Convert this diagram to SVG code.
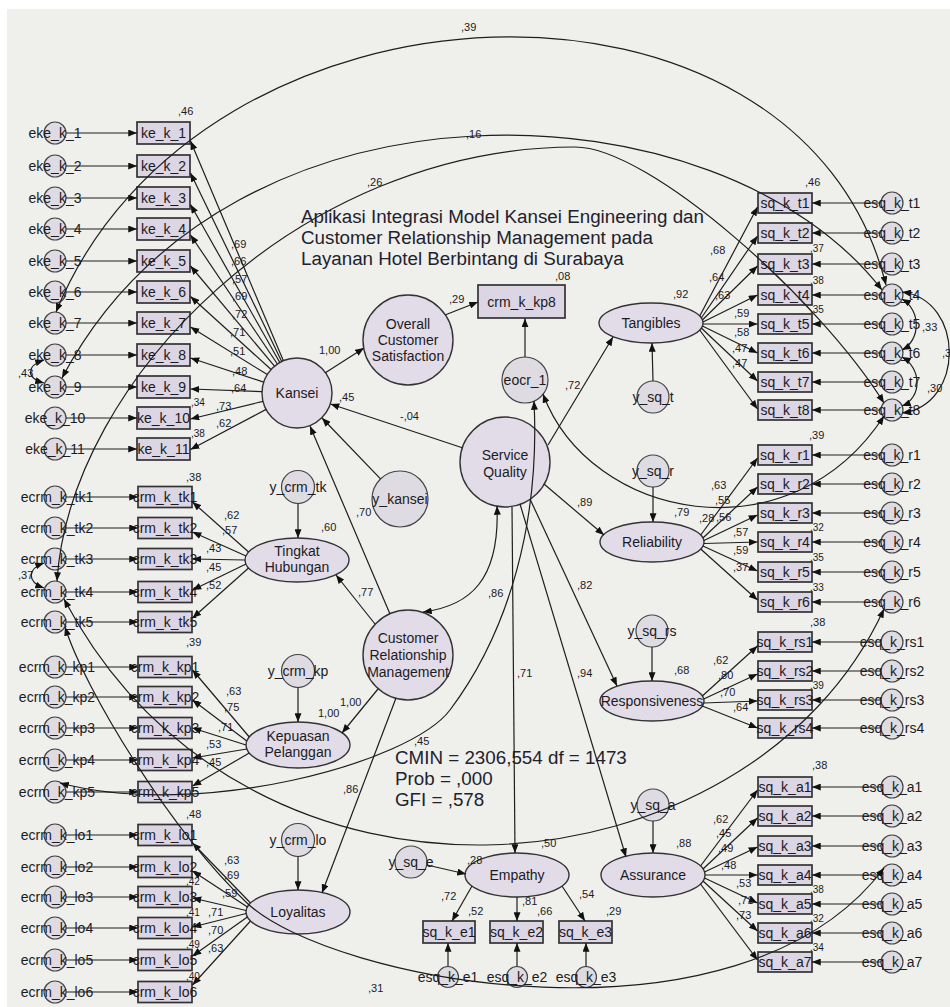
<svg xmlns="http://www.w3.org/2000/svg" width="950" height="1007" viewBox="0 0 950 1007">
<defs>
<marker id="a" viewBox="0 0 10 8" refX="10" refY="4" markerWidth="9" markerHeight="7" markerUnits="userSpaceOnUse" orient="auto-start-reverse"><path d="M0,0L10,4L0,8z" fill="#111"/></marker>
<style>
.l{fill:#e2dce8;stroke:#333;stroke-width:1.4}
.e{fill:#dedbe2;stroke:#444;stroke-width:1.2}
.b{fill:#dcd5e4;stroke:#333;stroke-width:1.7}
.lb{font-family:"Liberation Sans",Arial,sans-serif;font-size:14px;text-anchor:middle;fill:#1b1b24}
.nm{font-family:"Liberation Sans",Arial,sans-serif;font-size:11px;fill:#1b1b24}
.sm{font-size:10px}
.big{font-family:"Liberation Sans",Arial,sans-serif;font-size:18.8px;fill:#22222e}
.p{fill:none;stroke:#1e1e1e;stroke-width:1.2;marker-end:url(#a)}
.d{fill:none;stroke:#1e1e1e;stroke-width:1.2;marker-start:url(#a);marker-end:url(#a)}
</style>
</defs>
<rect x="0" y="0" width="950" height="1007" fill="#ffffff"/>
<rect x="7" y="9" width="943" height="998" fill="#efefec"/>

<g id="title">
<text class="big" x="301" y="223">Aplikasi Integrasi Model Kansei Engineering dan</text>
<text class="big" x="301" y="244">Customer Relationship Management pada</text>
<text class="big" x="301" y="265">Layanan Hotel Berbintang di Surabaya</text>
</g>
<g id="fit">
<text class="big" x="395" y="764">CMIN = 2306,554 df = 1473</text>
<text class="big" x="395" y="785">Prob = ,000</text>
<text class="big" x="395" y="806">GFI = ,578</text>
</g>

<g id="nodes">
<g id="eke_k_1"><circle class="e" cx="55" cy="133" r="11"/><text class="lb" x="55" y="138">eke_k_1</text></g>
<g id="eke_k_2"><circle class="e" cx="55" cy="166" r="11"/><text class="lb" x="55" y="171">eke_k_2</text></g>
<g id="eke_k_3"><circle class="e" cx="55" cy="198" r="11"/><text class="lb" x="55" y="203">eke_k_3</text></g>
<g id="eke_k_4"><circle class="e" cx="55" cy="229" r="11"/><text class="lb" x="55" y="234">eke_k_4</text></g>
<g id="eke_k_5"><circle class="e" cx="55" cy="261" r="11"/><text class="lb" x="55" y="266">eke_k_5</text></g>
<g id="eke_k_6"><circle class="e" cx="55" cy="292" r="11"/><text class="lb" x="55" y="297">eke_k_6</text></g>
<g id="eke_k_7"><circle class="e" cx="55" cy="323" r="11"/><text class="lb" x="55" y="328">eke_k_7</text></g>
<g id="eke_k_8"><circle class="e" cx="55" cy="355" r="11"/><text class="lb" x="55" y="360">eke_k_8</text></g>
<g id="eke_k_9"><circle class="e" cx="55" cy="387" r="11"/><text class="lb" x="55" y="392">eke_k_9</text></g>
<g id="eke_k_10"><circle class="e" cx="55" cy="418" r="11"/><text class="lb" x="55" y="423">eke_k_10</text></g>
<g id="eke_k_11"><circle class="e" cx="55" cy="449" r="11"/><text class="lb" x="55" y="454">eke_k_11</text></g>

<g id="ke_k_1"><rect class="b" x="137" y="122" width="53" height="22"/><text class="lb" x="163.5" y="138">ke_k_1</text></g>
<g id="ke_k_2"><rect class="b" x="137" y="155" width="53" height="22"/><text class="lb" x="163.5" y="171">ke_k_2</text></g>
<g id="ke_k_3"><rect class="b" x="137" y="187" width="53" height="22"/><text class="lb" x="163.5" y="203">ke_k_3</text></g>
<g id="ke_k_4"><rect class="b" x="137" y="218" width="53" height="22"/><text class="lb" x="163.5" y="234">ke_k_4</text></g>
<g id="ke_k_5"><rect class="b" x="137" y="250" width="53" height="22"/><text class="lb" x="163.5" y="266">ke_k_5</text></g>
<g id="ke_k_6"><rect class="b" x="137" y="281" width="53" height="22"/><text class="lb" x="163.5" y="297">ke_k_6</text></g>
<g id="ke_k_7"><rect class="b" x="137" y="312" width="53" height="22"/><text class="lb" x="163.5" y="328">ke_k_7</text></g>
<g id="ke_k_8"><rect class="b" x="137" y="344" width="53" height="22"/><text class="lb" x="163.5" y="360">ke_k_8</text></g>
<g id="ke_k_9"><rect class="b" x="137" y="376" width="53" height="22"/><text class="lb" x="163.5" y="392">ke_k_9</text></g>
<g id="ke_k_10"><rect class="b" x="137" y="407" width="53" height="22"/><text class="lb" x="163.5" y="423">ke_k_10</text></g>
<g id="ke_k_11"><rect class="b" x="137" y="438" width="53" height="22"/><text class="lb" x="163.5" y="454">ke_k_11</text></g>

<g id="ecrm_k_tk1"><circle class="e" cx="55" cy="497" r="11"/><text class="lb" x="57" y="502">ecrm_k_tk1</text></g>
<g id="ecrm_k_tk2"><circle class="e" cx="55" cy="528" r="11"/><text class="lb" x="57" y="533">ecrm_k_tk2</text></g>
<g id="ecrm_k_tk3"><circle class="e" cx="55" cy="559" r="11"/><text class="lb" x="57" y="564">ecrm_k_tk3</text></g>
<g id="ecrm_k_tk4"><circle class="e" cx="55" cy="592" r="11"/><text class="lb" x="57" y="597">ecrm_k_tk4</text></g>
<g id="ecrm_k_tk5"><circle class="e" cx="55" cy="622" r="11"/><text class="lb" x="57" y="627">ecrm_k_tk5</text></g>
<g id="ecrm_k_kp1"><circle class="e" cx="55" cy="667" r="11"/><text class="lb" x="57" y="672">ecrm_k_kp1</text></g>
<g id="ecrm_k_kp2"><circle class="e" cx="55" cy="697" r="11"/><text class="lb" x="57" y="702">ecrm_k_kp2</text></g>
<g id="ecrm_k_kp3"><circle class="e" cx="55" cy="728" r="11"/><text class="lb" x="57" y="733">ecrm_k_kp3</text></g>
<g id="ecrm_k_kp4"><circle class="e" cx="55" cy="760" r="11"/><text class="lb" x="57" y="765">ecrm_k_kp4</text></g>
<g id="ecrm_k_kp5"><circle class="e" cx="55" cy="792" r="11"/><text class="lb" x="57" y="797">ecrm_k_kp5</text></g>
<g id="ecrm_k_lo1"><circle class="e" cx="55" cy="835" r="11"/><text class="lb" x="57" y="840">ecrm_k_lo1</text></g>
<g id="ecrm_k_lo2"><circle class="e" cx="55" cy="867" r="11"/><text class="lb" x="57" y="872">ecrm_k_lo2</text></g>
<g id="ecrm_k_lo3"><circle class="e" cx="55" cy="897" r="11"/><text class="lb" x="57" y="902">ecrm_k_lo3</text></g>
<g id="ecrm_k_lo4"><circle class="e" cx="55" cy="928" r="11"/><text class="lb" x="57" y="933">ecrm_k_lo4</text></g>
<g id="ecrm_k_lo5"><circle class="e" cx="55" cy="960" r="11"/><text class="lb" x="57" y="965">ecrm_k_lo5</text></g>
<g id="ecrm_k_lo6"><circle class="e" cx="55" cy="992" r="11"/><text class="lb" x="57" y="997">ecrm_k_lo6</text></g>

<g id="crm_k_tk1"><rect class="b" x="138" y="486.5" width="54" height="21"/><text class="lb" x="165" y="502">crm_k_tk1</text></g>
<g id="crm_k_tk2"><rect class="b" x="138" y="517.5" width="54" height="21"/><text class="lb" x="165" y="533">crm_k_tk2</text></g>
<g id="crm_k_tk3"><rect class="b" x="138" y="548.5" width="54" height="21"/><text class="lb" x="165" y="564">crm_k_tk3</text></g>
<g id="crm_k_tk4"><rect class="b" x="138" y="581.5" width="54" height="21"/><text class="lb" x="165" y="597">crm_k_tk4</text></g>
<g id="crm_k_tk5"><rect class="b" x="138" y="611.5" width="54" height="21"/><text class="lb" x="165" y="627">crm_k_tk5</text></g>
<g id="crm_k_kp1"><rect class="b" x="138" y="656.5" width="54" height="21"/><text class="lb" x="165" y="672">crm_k_kp1</text></g>
<g id="crm_k_kp2"><rect class="b" x="138" y="686.5" width="54" height="21"/><text class="lb" x="165" y="702">crm_k_kp2</text></g>
<g id="crm_k_kp3"><rect class="b" x="138" y="717.5" width="54" height="21"/><text class="lb" x="165" y="733">crm_k_kp3</text></g>
<g id="crm_k_kp4"><rect class="b" x="138" y="749.5" width="54" height="21"/><text class="lb" x="165" y="765">crm_k_kp4</text></g>
<g id="crm_k_kp5"><rect class="b" x="138" y="781.5" width="54" height="21"/><text class="lb" x="165" y="797">crm_k_kp5</text></g>
<g id="crm_k_lo1"><rect class="b" x="138" y="824.5" width="54" height="21"/><text class="lb" x="165" y="840">crm_k_lo1</text></g>
<g id="crm_k_lo2"><rect class="b" x="138" y="856.5" width="54" height="21"/><text class="lb" x="165" y="872">crm_k_lo2</text></g>
<g id="crm_k_lo3"><rect class="b" x="138" y="886.5" width="54" height="21"/><text class="lb" x="165" y="902">crm_k_lo3</text></g>
<g id="crm_k_lo4"><rect class="b" x="138" y="917.5" width="54" height="21"/><text class="lb" x="165" y="933">crm_k_lo4</text></g>
<g id="crm_k_lo5"><rect class="b" x="138" y="949.5" width="54" height="21"/><text class="lb" x="165" y="965">crm_k_lo5</text></g>
<g id="crm_k_lo6"><rect class="b" x="138" y="981.5" width="54" height="21"/><text class="lb" x="165" y="997">crm_k_lo6</text></g>

<g id="sq_k_t1"><rect class="b" x="758" y="193" width="54" height="20"/><text class="lb" x="785" y="208">sq_k_t1</text></g>
<g id="sq_k_t2"><rect class="b" x="758" y="223" width="54" height="20"/><text class="lb" x="785" y="238">sq_k_t2</text></g>
<g id="sq_k_t3"><rect class="b" x="758" y="254" width="54" height="20"/><text class="lb" x="785" y="269">sq_k_t3</text></g>
<g id="sq_k_t4"><rect class="b" x="758" y="285" width="54" height="20"/><text class="lb" x="785" y="300">sq_k_t4</text></g>
<g id="sq_k_t5"><rect class="b" x="758" y="314" width="54" height="20"/><text class="lb" x="785" y="329">sq_k_t5</text></g>
<g id="sq_k_t6"><rect class="b" x="758" y="343" width="54" height="20"/><text class="lb" x="785" y="358">sq_k_t6</text></g>
<g id="sq_k_t7"><rect class="b" x="758" y="372" width="54" height="20"/><text class="lb" x="785" y="387">sq_k_t7</text></g>
<g id="sq_k_t8"><rect class="b" x="758" y="400" width="54" height="20"/><text class="lb" x="785" y="415">sq_k_t8</text></g>
<g id="sq_k_r1"><rect class="b" x="758" y="445" width="54" height="20"/><text class="lb" x="785" y="460">sq_k_r1</text></g>
<g id="sq_k_r2"><rect class="b" x="758" y="474" width="54" height="20"/><text class="lb" x="785" y="489">sq_k_r2</text></g>
<g id="sq_k_r3"><rect class="b" x="758" y="503" width="54" height="20"/><text class="lb" x="785" y="518">sq_k_r3</text></g>
<g id="sq_k_r4"><rect class="b" x="758" y="532" width="54" height="20"/><text class="lb" x="785" y="547">sq_k_r4</text></g>
<g id="sq_k_r5"><rect class="b" x="758" y="562" width="54" height="20"/><text class="lb" x="785" y="577">sq_k_r5</text></g>
<g id="sq_k_r6"><rect class="b" x="758" y="592" width="54" height="20"/><text class="lb" x="785" y="607">sq_k_r6</text></g>
<g id="sq_k_rs1"><rect class="b" x="758" y="632" width="54" height="20"/><text class="lb" x="785" y="647">sq_k_rs1</text></g>
<g id="sq_k_rs2"><rect class="b" x="758" y="661" width="54" height="20"/><text class="lb" x="785" y="676">sq_k_rs2</text></g>
<g id="sq_k_rs3"><rect class="b" x="758" y="690" width="54" height="20"/><text class="lb" x="785" y="705">sq_k_rs3</text></g>
<g id="sq_k_rs4"><rect class="b" x="758" y="718" width="54" height="20"/><text class="lb" x="785" y="733">sq_k_rs4</text></g>
<g id="sq_k_a1"><rect class="b" x="758" y="777" width="54" height="20"/><text class="lb" x="785" y="792">sq_k_a1</text></g>
<g id="sq_k_a2"><rect class="b" x="758" y="806" width="54" height="20"/><text class="lb" x="785" y="821">sq_k_a2</text></g>
<g id="sq_k_a3"><rect class="b" x="758" y="836" width="54" height="20"/><text class="lb" x="785" y="851">sq_k_a3</text></g>
<g id="sq_k_a4"><rect class="b" x="758" y="865" width="54" height="20"/><text class="lb" x="785" y="880">sq_k_a4</text></g>
<g id="sq_k_a5"><rect class="b" x="758" y="894" width="54" height="20"/><text class="lb" x="785" y="909">sq_k_a5</text></g>
<g id="sq_k_a6"><rect class="b" x="758" y="923" width="54" height="20"/><text class="lb" x="785" y="938">sq_k_a6</text></g>
<g id="sq_k_a7"><rect class="b" x="758" y="952" width="54" height="20"/><text class="lb" x="785" y="967">sq_k_a7</text></g>

<g id="esq_k_t1"><circle class="e" cx="892" cy="203" r="11"/><text class="lb" x="892" y="208">esq_k_t1</text></g>
<g id="esq_k_t2"><circle class="e" cx="892" cy="233" r="11"/><text class="lb" x="892" y="238">esq_k_t2</text></g>
<g id="esq_k_t3"><circle class="e" cx="892" cy="264" r="11"/><text class="lb" x="892" y="269">esq_k_t3</text></g>
<g id="esq_k_t4"><circle class="e" cx="892" cy="295" r="11"/><text class="lb" x="892" y="300">esq_k_t4</text></g>
<g id="esq_k_t5"><circle class="e" cx="892" cy="324" r="11"/><text class="lb" x="892" y="329">esq_k_t5</text></g>
<g id="esq_k_t6"><circle class="e" cx="892" cy="353" r="11"/><text class="lb" x="892" y="358">esq_k_t6</text></g>
<g id="esq_k_t7"><circle class="e" cx="892" cy="382" r="11"/><text class="lb" x="892" y="387">esq_k_t7</text></g>
<g id="esq_k_t8"><circle class="e" cx="892" cy="410" r="11"/><text class="lb" x="892" y="415">esq_k_t8</text></g>
<g id="esq_k_r1"><circle class="e" cx="892" cy="455" r="11"/><text class="lb" x="892" y="460">esq_k_r1</text></g>
<g id="esq_k_r2"><circle class="e" cx="892" cy="484" r="11"/><text class="lb" x="892" y="489">esq_k_r2</text></g>
<g id="esq_k_r3"><circle class="e" cx="892" cy="513" r="11"/><text class="lb" x="892" y="518">esq_k_r3</text></g>
<g id="esq_k_r4"><circle class="e" cx="892" cy="542" r="11"/><text class="lb" x="892" y="547">esq_k_r4</text></g>
<g id="esq_k_r5"><circle class="e" cx="892" cy="572" r="11"/><text class="lb" x="892" y="577">esq_k_r5</text></g>
<g id="esq_k_r6"><circle class="e" cx="892" cy="602" r="11"/><text class="lb" x="892" y="607">esq_k_r6</text></g>
<g id="esq_k_rs1"><circle class="e" cx="892" cy="642" r="11"/><text class="lb" x="892" y="647">esq_k_rs1</text></g>
<g id="esq_k_rs2"><circle class="e" cx="892" cy="671" r="11"/><text class="lb" x="892" y="676">esq_k_rs2</text></g>
<g id="esq_k_rs3"><circle class="e" cx="892" cy="700" r="11"/><text class="lb" x="892" y="705">esq_k_rs3</text></g>
<g id="esq_k_rs4"><circle class="e" cx="892" cy="728" r="11"/><text class="lb" x="892" y="733">esq_k_rs4</text></g>
<g id="esq_k_a1"><circle class="e" cx="892" cy="787" r="11"/><text class="lb" x="892" y="792">esq_k_a1</text></g>
<g id="esq_k_a2"><circle class="e" cx="892" cy="816" r="11"/><text class="lb" x="892" y="821">esq_k_a2</text></g>
<g id="esq_k_a3"><circle class="e" cx="892" cy="846" r="11"/><text class="lb" x="892" y="851">esq_k_a3</text></g>
<g id="esq_k_a4"><circle class="e" cx="892" cy="875" r="11"/><text class="lb" x="892" y="880">esq_k_a4</text></g>
<g id="esq_k_a5"><circle class="e" cx="892" cy="904" r="11"/><text class="lb" x="892" y="909">esq_k_a5</text></g>
<g id="esq_k_a6"><circle class="e" cx="892" cy="933" r="11"/><text class="lb" x="892" y="938">esq_k_a6</text></g>
<g id="esq_k_a7"><circle class="e" cx="892" cy="962" r="11"/><text class="lb" x="892" y="967">esq_k_a7</text></g>

<g id="sq_k_e1"><rect class="b" x="423" y="921" width="52" height="22"/><text class="lb" x="449" y="937">sq_k_e1</text></g>
<g id="sq_k_e2"><rect class="b" x="490" y="921" width="53" height="22"/><text class="lb" x="516.5" y="937">sq_k_e2</text></g>
<g id="sq_k_e3"><rect class="b" x="559" y="921" width="53" height="22"/><text class="lb" x="585.5" y="937">sq_k_e3</text></g>
<g id="esq_k_e1"><circle class="e" cx="448" cy="977" r="10.5"/><text class="lb" x="448" y="982">esq_k_e1</text></g>
<g id="esq_k_e2"><circle class="e" cx="517" cy="977" r="10.5"/><text class="lb" x="517" y="982">esq_k_e2</text></g>
<g id="esq_k_e3"><circle class="e" cx="586" cy="977" r="10.5"/><text class="lb" x="586" y="982">esq_k_e3</text></g>

<g id="crm_k_kp8"><rect class="b" x="478" y="285" width="87" height="33"/><text class="lb" x="521.5" y="307">crm_k_kp8</text></g>
<g id="eocr_1"><circle class="e" cx="525" cy="380" r="23"/><text class="lb" x="525" y="385">eocr_1</text></g>

<g id="Kansei"><circle class="l" cx="297" cy="393" r="35"/><text class="lb" x="297" y="398">Kansei</text></g>
<g id="OCS"><circle class="l" cx="408" cy="340" r="45"/><text class="lb" x="408" y="329">Overall</text><text class="lb" x="408" y="345">Customer</text><text class="lb" x="408" y="361">Satisfaction</text></g>
<g id="ServiceQuality"><circle class="l" cx="505" cy="462" r="45"/><text class="lb" x="505" y="460">Service</text><text class="lb" x="505" y="477">Quality</text></g>
<g id="CRM"><circle class="l" cx="408" cy="655" r="45"/><text class="lb" x="408" y="643">Customer</text><text class="lb" x="408" y="660">Relationship</text><text class="lb" x="408" y="677">Management</text></g>
<g id="y_kansei"><circle class="e" cx="400" cy="499" r="28"/><text class="lb" x="400" y="504">y_kansei</text></g>
<g id="TingkatHubungan"><ellipse class="l" cx="297" cy="560" rx="52" ry="22"/><text class="lb" x="297" y="556">Tingkat</text><text class="lb" x="297" y="572">Hubungan</text></g>
<g id="KepuasanPelanggan"><ellipse class="l" cx="298" cy="745" rx="52" ry="23"/><text class="lb" x="298" y="741">Kepuasan</text><text class="lb" x="298" y="757">Pelanggan</text></g>
<g id="Loyalitas"><ellipse class="l" cx="298" cy="912" rx="52" ry="22"/><text class="lb" x="298" y="917">Loyalitas</text></g>
<g id="y_crm_tk"><circle class="e" cx="298" cy="487" r="16.5"/><text class="lb" x="298" y="492">y_crm_tk</text></g>
<g id="y_crm_kp"><circle class="e" cx="298" cy="671" r="16.5"/><text class="lb" x="298" y="676">y_crm_kp</text></g>
<g id="y_crm_lo"><circle class="e" cx="298" cy="840" r="16.5"/><text class="lb" x="298" y="845">y_crm_lo</text></g>
<g id="Tangibles"><ellipse class="l" cx="651" cy="323" rx="52" ry="20"/><text class="lb" x="651" y="328">Tangibles</text></g>
<g id="Reliability"><ellipse class="l" cx="652" cy="542" rx="52" ry="20"/><text class="lb" x="652" y="547">Reliability</text></g>
<g id="Responsiveness"><ellipse class="l" cx="652" cy="701" rx="52" ry="20"/><text class="lb" x="652" y="706">Responsiveness</text></g>
<g id="Assurance"><ellipse class="l" cx="653" cy="875" rx="52" ry="22"/><text class="lb" x="653" y="880">Assurance</text></g>
<g id="Empathy"><ellipse class="l" cx="517" cy="875" rx="52" ry="22"/><text class="lb" x="517" y="880">Empathy</text></g>
<g id="y_sq_t"><circle class="e" cx="653" cy="397" r="16"/><text class="lb" x="653" y="402">y_sq_t</text></g>
<g id="y_sq_r"><circle class="e" cx="653" cy="471" r="16"/><text class="lb" x="653" y="476">y_sq_r</text></g>
<g id="y_sq_rs"><circle class="e" cx="652" cy="631" r="16"/><text class="lb" x="652" y="636">y_sq_rs</text></g>
<g id="y_sq_a"><circle class="e" cx="653" cy="805" r="16"/><text class="lb" x="653" y="810">y_sq_a</text></g>
<g id="y_sq_e"><circle class="e" cx="411" cy="862" r="16"/><text class="lb" x="411" y="867">y_sq_e</text></g>
</g>

<g id="connectors">
<line class="p" x1="66" y1="133" x2="137" y2="133"/><line class="p" x1="66" y1="166" x2="137" y2="166"/><line class="p" x1="66" y1="198" x2="137" y2="198"/><line class="p" x1="66" y1="229" x2="137" y2="229"/><line class="p" x1="66" y1="261" x2="137" y2="261"/><line class="p" x1="66" y1="292" x2="137" y2="292"/><line class="p" x1="66" y1="323" x2="137" y2="323"/><line class="p" x1="66" y1="355" x2="137" y2="355"/><line class="p" x1="66" y1="387" x2="137" y2="387"/><line class="p" x1="66" y1="418" x2="137" y2="418"/><line class="p" x1="66" y1="449" x2="137" y2="449"/>
<line class="p" x1="66" y1="497" x2="138" y2="497"/><line class="p" x1="66" y1="528" x2="138" y2="528"/><line class="p" x1="66" y1="559" x2="138" y2="559"/><line class="p" x1="66" y1="592" x2="138" y2="592"/><line class="p" x1="66" y1="622" x2="138" y2="622"/><line class="p" x1="66" y1="667" x2="138" y2="667"/><line class="p" x1="66" y1="697" x2="138" y2="697"/><line class="p" x1="66" y1="728" x2="138" y2="728"/><line class="p" x1="66" y1="760" x2="138" y2="760"/><line class="p" x1="66" y1="792" x2="138" y2="792"/><line class="p" x1="66" y1="835" x2="138" y2="835"/><line class="p" x1="66" y1="867" x2="138" y2="867"/><line class="p" x1="66" y1="897" x2="138" y2="897"/><line class="p" x1="66" y1="928" x2="138" y2="928"/><line class="p" x1="66" y1="960" x2="138" y2="960"/><line class="p" x1="66" y1="992" x2="138" y2="992"/>
<line class="p" x1="881" y1="203" x2="812" y2="203"/><line class="p" x1="881" y1="233" x2="812" y2="233"/><line class="p" x1="881" y1="264" x2="812" y2="264"/><line class="p" x1="881" y1="295" x2="812" y2="295"/><line class="p" x1="881" y1="324" x2="812" y2="324"/><line class="p" x1="881" y1="353" x2="812" y2="353"/><line class="p" x1="881" y1="382" x2="812" y2="382"/><line class="p" x1="881" y1="410" x2="812" y2="410"/>
<line class="p" x1="881" y1="455" x2="812" y2="455"/><line class="p" x1="881" y1="484" x2="812" y2="484"/><line class="p" x1="881" y1="513" x2="812" y2="513"/><line class="p" x1="881" y1="542" x2="812" y2="542"/><line class="p" x1="881" y1="572" x2="812" y2="572"/><line class="p" x1="881" y1="602" x2="812" y2="602"/>
<line class="p" x1="881" y1="642" x2="812" y2="642"/><line class="p" x1="881" y1="671" x2="812" y2="671"/><line class="p" x1="881" y1="700" x2="812" y2="700"/><line class="p" x1="881" y1="728" x2="812" y2="728"/>
<line class="p" x1="881" y1="787" x2="812" y2="787"/><line class="p" x1="881" y1="816" x2="812" y2="816"/><line class="p" x1="881" y1="846" x2="812" y2="846"/><line class="p" x1="881" y1="875" x2="812" y2="875"/><line class="p" x1="881" y1="904" x2="812" y2="904"/><line class="p" x1="881" y1="933" x2="812" y2="933"/><line class="p" x1="881" y1="962" x2="812" y2="962"/>
<line class="p" x1="448" y1="966.5" x2="448" y2="943"/><line class="p" x1="517" y1="966.5" x2="517" y2="943"/><line class="p" x1="586" y1="966.5" x2="586" y2="943"/>

<line class="p" x1="283.4" y1="360.8" x2="190.5" y2="141"/><line class="p" x1="281.7" y1="361.5" x2="190.5" y2="173"/><line class="p" x1="279.8" y1="362.5" x2="190.5" y2="204.5"/><line class="p" x1="277.4" y1="364" x2="190.5" y2="235"/><line class="p" x1="274.5" y1="366.2" x2="190.5" y2="266"/><line class="p" x1="271.1" y1="369.5" x2="190.5" y2="296.5"/><line class="p" x1="267.3" y1="374.6" x2="190.5" y2="327"/><line class="p" x1="263.7" y1="382.1" x2="190.5" y2="358"/><line class="p" x1="262" y1="391.7" x2="190.5" y2="389"/><line class="p" x1="263" y1="401.3" x2="190.5" y2="419"/><line class="p" x1="266.1" y1="409.4" x2="190.5" y2="449.5"/>
<line class="p" x1="248.6" y1="552" x2="192.5" y2="502"/><line class="p" x1="246" y1="556" x2="192.5" y2="532"/><line class="p" x1="245" y1="560" x2="192.5" y2="559"/><line class="p" x1="246" y1="564" x2="192.5" y2="590"/><line class="p" x1="248.6" y1="568" x2="192.5" y2="618"/>
<line class="p" x1="249.3" y1="737" x2="192.5" y2="670"/><line class="p" x1="246.8" y1="741" x2="192.5" y2="700"/><line class="p" x1="246" y1="745" x2="192.5" y2="728"/><line class="p" x1="246.8" y1="749" x2="192.5" y2="758"/><line class="p" x1="249.3" y1="753" x2="192.5" y2="786"/>
<line class="p" x1="250.5" y1="903" x2="192.5" y2="843"/><line class="p" x1="247.4" y1="907" x2="192.5" y2="871"/><line class="p" x1="246.1" y1="910.5" x2="192.5" y2="898"/><line class="p" x1="246.1" y1="913.5" x2="192.5" y2="927"/><line class="p" x1="247.4" y1="917" x2="192.5" y2="956"/><line class="p" x1="250.5" y1="921" x2="192.5" y2="985"/>
<line class="p" x1="699.7" y1="316" x2="757.5" y2="207"/><line class="p" x1="701.3" y1="318" x2="757.5" y2="236"/><line class="p" x1="702.4" y1="320" x2="757.5" y2="266"/><line class="p" x1="703" y1="322" x2="757.5" y2="295"/><line class="p" x1="703" y1="324" x2="757.5" y2="324"/><line class="p" x1="702.4" y1="326" x2="757.5" y2="353"/><line class="p" x1="701.3" y1="328" x2="757.5" y2="381"/><line class="p" x1="699.7" y1="330" x2="757.5" y2="409"/>
<line class="p" x1="700.7" y1="535" x2="757.5" y2="458"/><line class="p" x1="702.9" y1="538" x2="757.5" y2="487"/><line class="p" x1="703.9" y1="540.5" x2="757.5" y2="515"/><line class="p" x1="703.9" y1="543.5" x2="757.5" y2="542"/><line class="p" x1="702.9" y1="546" x2="757.5" y2="571"/><line class="p" x1="700.7" y1="549" x2="757.5" y2="600"/>
<line class="p" x1="702.3" y1="696" x2="757.5" y2="646"/><line class="p" x1="703.7" y1="699" x2="757.5" y2="674"/><line class="p" x1="703.7" y1="703" x2="757.5" y2="701"/><line class="p" x1="702.3" y1="706" x2="757.5" y2="728"/>
<line class="p" x1="700.5" y1="866" x2="757.5" y2="790"/><line class="p" x1="703" y1="869" x2="757.5" y2="818"/><line class="p" x1="704.5" y1="872" x2="757.5" y2="847"/><line class="p" x1="705" y1="875" x2="757.5" y2="875"/><line class="p" x1="704.5" y1="878" x2="757.5" y2="903"/><line class="p" x1="703" y1="881" x2="757.5" y2="931"/><line class="p" x1="700.5" y1="884" x2="757.5" y2="960"/>
<line class="p" x1="472" y1="886" x2="452" y2="921"/><line class="p" x1="517" y1="897" x2="517" y2="921"/><line class="p" x1="562" y1="886" x2="585" y2="921"/>

<line class="p" x1="325" y1="373" x2="364" y2="348"/>
<line class="p" x1="445" y1="315" x2="478" y2="302"/>
<line class="p" x1="525" y1="357" x2="525" y2="318.5"/>
<line class="p" x1="462.3" y1="447.8" x2="330.5" y2="404"/>
<line class="p" x1="380.5" y1="478.9" x2="322" y2="418"/>
<line class="p" x1="390" y1="614" x2="310" y2="426"/>
<line class="p" x1="375" y1="624" x2="336" y2="575"/>
<line class="p" x1="378" y1="689" x2="342" y2="733"/>
<line class="p" x1="396" y1="698" x2="322" y2="893"/>
<line class="p" x1="298" y1="503.5" x2="298" y2="538"/>
<line class="p" x1="298" y1="687.5" x2="298" y2="722"/>
<line class="p" x1="298" y1="856.5" x2="298" y2="890"/>
<line class="p" x1="548" y1="445" x2="613" y2="337"/>
<line class="p" x1="544" y1="484" x2="604" y2="535"/>
<line class="p" x1="530" y1="499" x2="617" y2="686"/>
<line class="p" x1="520" y1="504" x2="626" y2="857"/>
<line class="p" x1="512" y1="507" x2="515" y2="853"/>
<line class="p" x1="653" y1="381" x2="652" y2="343"/>
<line class="p" x1="653" y1="487" x2="653" y2="522"/>
<line class="p" x1="652" y1="647" x2="652" y2="681"/>
<line class="p" x1="653" y1="821" x2="653" y2="853"/>
<line class="p" x1="427" y1="865" x2="466" y2="874"/>

<path class="d" d="M423,612 C470,606 500,580 497,506"/>
<path class="d" d="M56,312 C200,-40 800,-60 886,285"/>
<path class="d" d="M62,378 C230,60 720,80 882,290"/>
<path class="d" d="M57,581 C70,380 300,147 575,147 C650,147 820,300 884,403"/>
<path class="d" d="M64,599 C250,950 750,900 884,609"/>
<path class="d" d="M65,627 C85,690 170,830 247,903 C330,982 740,1060 884,868"/>
<path class="d" d="M534,401 C540,520 510,630 450,710 C410,763 200,820 60,783"/>
<path class="d" d="M543,394 C590,520 790,560 884,416"/>
<path class="d" d="M902,299 C921,310 921,340 902,350"/>
<path class="d" d="M902,357 C922,368 922,398 902,406"/>
<path class="d" d="M902,292 C965,300 965,405 902,413"/>
<path class="d" d="M44,360 C26,366 26,378 44,383"/>
<path class="d" d="M44,563 C27,569 27,582 44,588"/>
</g>

<g id="labels" class="nm">
<text x="461" y="31">,39</text><text x="466" y="138">,16</text><text x="367" y="186">,26</text><text x="368" y="992">,31</text>
<text x="178" y="115">,46</text><text x="805" y="186">,46</text>
<text x="231" y="248">,69</text><text x="231" y="265">,66</text><text x="232" y="283">,57</text><text x="232" y="300">,69</text><text x="232" y="318">,72</text><text x="230" y="336">,71</text><text x="230" y="355">,51</text><text x="232" y="375">,48</text><text x="231" y="392">,64</text><text x="216" y="410">,73</text><text x="216" y="427">,62</text>
<text class="sm" x="191" y="406">,34</text><text class="sm" x="191" y="437">,38</text>
<text x="339" y="401">,45</text>
<text x="224" y="519">,62</text><text x="222" y="534">,57</text><text x="206" y="552">,43</text><text x="206" y="571">,45</text><text x="206" y="589">,52</text><text x="321" y="531">,60</text><text x="186" y="481">,38</text>
<text x="226" y="695">,63</text><text x="224" y="711">,75</text><text x="218" y="731">,71</text><text x="206" y="748">,53</text><text x="206" y="766">,45</text><text x="186" y="646">,39</text>
<text x="340" y="706">1,00</text><text x="318" y="717">1,00</text>
<text x="224" y="864">,63</text><text x="224" y="879">,69</text><text x="222" y="897">,59</text><text x="208" y="916">,71</text><text x="208" y="934">,70</text><text x="208" y="952">,63</text><text x="186" y="818">,48</text>
<text class="sm" x="186" y="885">,42</text><text class="sm" x="186" y="916">,41</text><text class="sm" x="186" y="948">,49</text><text class="sm" x="186" y="980">,40</text>
<text x="358" y="596">,77</text><text x="356" y="516">,70</text><text x="400" y="420">-,04</text><text x="319" y="354">1,00</text><text x="449" y="303">,29</text><text x="555" y="280">,08</text>
<text x="565" y="389">,72</text><text x="577" y="506">,89</text><text x="577" y="589">,82</text><text x="577" y="677">,94</text><text x="517" y="677">,71</text><text x="488" y="597">,86</text><text x="343" y="793">,86</text><text x="414" y="745">,45</text>
<text x="673" y="298">,92</text><text x="674" y="516">,79</text><text x="674" y="674">,68</text><text x="676" y="847">,88</text><text x="541" y="847">,50</text><text x="467" y="864">,28</text>
<text x="710" y="254">,68</text><text x="709" y="281">,64</text><text x="715" y="299">,63</text><text x="734" y="317">,59</text><text x="734" y="336">,58</text><text x="732" y="352">,47</text><text x="732" y="367">,47</text>
<text class="sm" x="810" y="252">,37</text><text class="sm" x="810" y="284">,38</text><text class="sm" x="810" y="313">,35</text>
<text x="809" y="439">,39</text><text x="711" y="489">,63</text><text x="715" y="504">,55</text><text x="699" y="522">,28</text><text x="716" y="521">,56</text><text x="733" y="536">,57</text><text x="733" y="554">,59</text><text x="733" y="571">,37</text>
<text class="sm" x="810" y="531">,32</text><text class="sm" x="810" y="561">,35</text><text class="sm" x="810" y="591">,33</text>
<text x="810" y="626">,38</text><text x="713" y="664">,62</text><text x="718" y="679">,80</text><text x="720" y="696">,70</text><text x="733" y="711">,64</text><text class="sm" x="810" y="689">,39</text>
<text x="812" y="769">,38</text><text x="713" y="823">,62</text><text x="716" y="837">,45</text><text x="718" y="852">,49</text><text x="721" y="869">,48</text><text x="736" y="887">,53</text><text x="738" y="904">,71</text><text x="736" y="919">,73</text>
<text class="sm" x="810" y="893">,38</text><text class="sm" x="810" y="922">,32</text><text class="sm" x="810" y="951">,34</text>
<text x="441" y="900">,72</text><text x="468" y="915">,52</text><text x="522" y="905">,81</text><text x="537" y="915">,66</text><text x="579" y="898">,54</text><text x="606" y="915">,29</text>
<text x="922" y="331">,33</text><text x="927" y="392">,30</text><text x="942" y="357">,3</text>
<text x="18" y="377">,43</text><text x="18" y="579">,37</text>
</g>
</svg>
